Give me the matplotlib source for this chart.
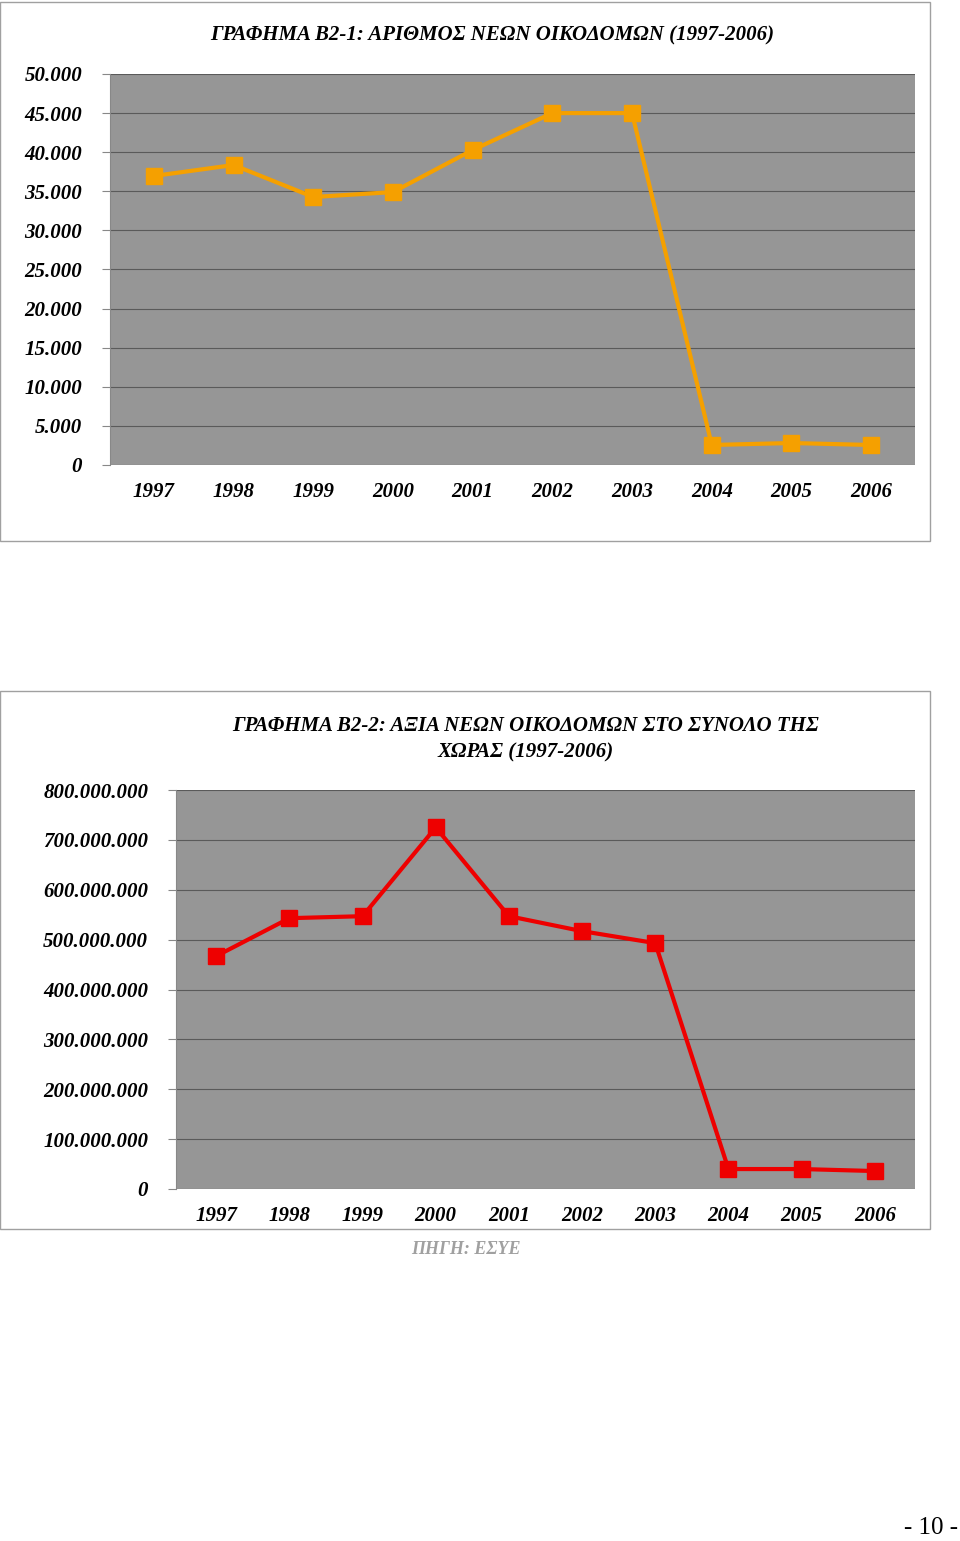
import matplotlib
matplotlib.use("Agg")
import matplotlib.pyplot as plt
from matplotlib.patches import Rectangle
from matplotlib.ticker import FuncFormatter

years = ["1997","1998","1999","2000","2001","2002","2003","2004","2005","2006"]
buildings = [36960, 38360, 34270, 34900, 40280, 45000, 45000, 2560, 2810, 2560]
values = [467e6, 543e6, 547e6, 725e6, 547e6, 517e6, 493e6, 40e6, 40e6, 36e6]
title1 = "ΓΡΑΦΗΜΑ Β2-1: ΑΡΙΘΜΟΣ ΝΕΩΝ ΟΙΚΟΔΟΜΩΝ (1997-2006)"
title2 = "ΓΡΑΦΗΜΑ Β2-2: ΑΞΙΑ ΝΕΩΝ ΟΙΚΟΔΟΜΩΝ ΣΤΟ ΣΥΝΟΛΟ ΤΗΣ\nΧΩΡΑΣ (1997-2006)"

W, H = 960, 1541
fig = plt.figure(figsize=(9.6, 15.41), dpi=100)
font = dict(family="Liberation Serif", weight="bold", style="italic")

def fx(x): return x / W
def fy(y): return 1 - y / H

def dotfmt(v, p):
    return "0" if v == 0 else f"{int(v):,}".replace(",", ".")

def box(x0, y0, x1, y1):
    fig.patches.append(Rectangle((fx(x0), fy(y1)), fx(x1 - x0), (y1 - y0) / H,
                                 transform=fig.transFigure, fill=False,
                                 edgecolor="#a0a0a0", lw=1))

def chart(rect, data, ymax, step, color, title, title_y, fs):
    x0, y0, x1, y1 = rect
    ax = fig.add_axes([fx(x0), fy(y1), fx(x1 - x0), (y1 - y0) / H])
    ax.set_facecolor("#969696")
    xs = range(len(data))
    ax.plot(xs, data, color=color, lw=3, marker="s", ms=11, zorder=3)
    ax.set_xlim(-0.55, len(data) - 0.45)
    ax.set_ylim(0, ymax)
    ax.set_yticks([i * step for i in range(int(ymax / step) + 1)])
    ax.yaxis.set_major_formatter(FuncFormatter(dotfmt))
    ax.grid(axis="y", color="#5a5a5a", lw=0.8)
    ax.set_axisbelow(True)
    ax.set_xticks(list(xs))
    ax.set_xticklabels(years)
    for s in ["top", "right", "bottom"]:
        ax.spines[s].set_visible(False)
    ax.spines["left"].set_color("#888888")
    ax.tick_params(axis="y", length=6, color="#888888", pad=14)
    ax.tick_params(axis="x", length=0, pad=12)
    for l in ax.get_xticklabels() + ax.get_yticklabels():
        l.set_fontproperties(None); l.set_family(font["family"]); l.set_weight("bold")
        l.set_style("italic"); l.set_fontsize(fs)
    fig.text(fx((x0 + x1) / 2 - 20), fy(title_y), title, ha="center", va="center",
             fontsize=fs, linespacing=1.4, **font)
    return ax

box(0, 2, 930, 541)
chart((110, 74, 915, 465), buildings, 50000, 5000, "#f5a000", title1, 35, 15)
box(0, 691, 930, 1229)
chart((176, 790, 915, 1189), values, 800e6, 100e6, "#ee0000", title2, 739, 15)

fig.text(fx(466), fy(1250), "ΠΗΓΗ: ΕΣΥΕ", ha="center", va="center",
         color="#a0a0a0", fontsize=13, **font)
fig.text(fx(958), fy(1528), "- 10 -", ha="right", va="center", fontsize=18,
         family="Liberation Serif")
fig.savefig("out.png", dpi=100, facecolor="white")
